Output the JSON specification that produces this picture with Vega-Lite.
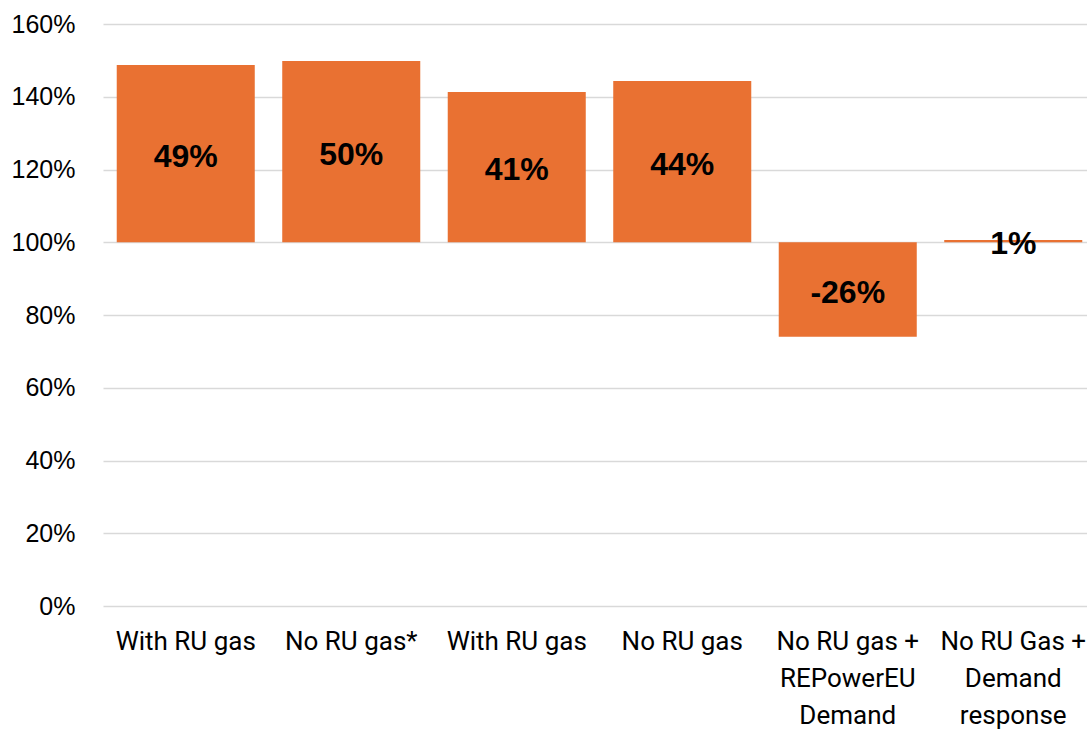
{
  "$schema": "https://vega.github.io/schema/vega-lite/v6.json",
  "width": 993,
  "height": 582,
  "autosize": {"type": "none"},
  "padding": {"left": 103, "top": 24, "right": 0, "bottom": 123},
  "background": "white",
  "config": {"view": {"stroke": null}},
  "data": {
    "values": [
      {"cat": "With RU gas", "value": 148.7, "base": 100, "label": "49%"},
      {"cat": "No RU gas*", "value": 149.8, "base": 100, "label": "50%"},
      {"cat": "With RU gas ", "value": 141.3, "base": 100, "label": "41%"},
      {"cat": "No RU gas", "value": 144.3, "base": 100, "label": "44%"},
      {"cat": "No RU gas +|REPowerEU|Demand", "value": 74.0, "base": 100, "label": "-26%"},
      {"cat": "No RU Gas +|Demand|response", "value": 100.6, "base": 100, "label": "1%"}
    ]
  },
  "transform": [{"calculate": "(datum.value + datum.base) / 2", "as": "mid"}],
  "encoding": {
    "x": {
      "field": "cat",
      "type": "nominal",
      "sort": null,
      "scale": {"paddingInner": 0.166, "paddingOuter": 0.083},
      "axis": {
        "title": null,
        "labelAngle": 0,
        "labelExpr": "split(datum.label, '|')",
        "labelFont": "Roboto",
        "labelFontSize": 26,
        "labelLineHeight": 37,
        "labelColor": "#000000",
        "labelPadding": 22,
        "labelBaseline": "top",
        "domain": false,
        "ticks": false,
        "labelLimit": 0
      }
    }
  },
  "layer": [
    {
      "mark": {"type": "bar", "color": "#E97132"},
      "encoding": {
        "y": {
          "field": "value",
          "type": "quantitative",
          "scale": {"domain": [0, 160], "nice": false, "zero": false},
          "axis": {
            "title": null,
            "values": [0, 20, 40, 60, 80, 100, 120, 140, 160],
            "labelExpr": "datum.value + '%'",
            "labelFont": "Liberation Sans",
            "labelFontSize": 25,
            "labelColor": "#000000",
            "labelPadding": 28,
            "domain": false,
            "ticks": false,
            "gridColor": "#d9d9d9",
            "gridWidth": 1.5
          }
        },
        "y2": {"field": "base"}
      }
    },
    {
      "mark": {"type": "text", "font": "Liberation Sans", "fontWeight": "bold", "fontSize": 32, "color": "#000000", "baseline": "middle", "dy": 3},
      "encoding": {
        "y": {"field": "mid", "type": "quantitative"},
        "text": {"field": "label"}
      }
    }
  ]
}
